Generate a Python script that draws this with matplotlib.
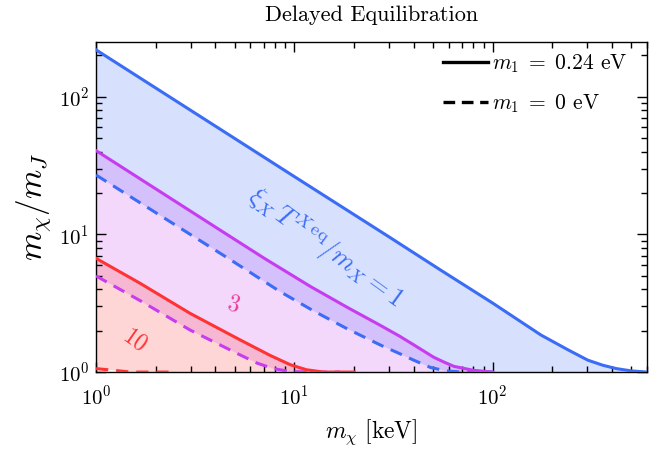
import numpy as np
import matplotlib
matplotlib.use("Agg")
import matplotlib.pyplot as plt
from matplotlib.lines import Line2D

plt.rcParams["font.family"] = "serif"
plt.rcParams["font.serif"] = ["cmr10", "DejaVu Serif"]
plt.rcParams["mathtext.fontset"] = "cm"
plt.rcParams["axes.formatter.use_mathtext"] = True

# Boundaries of the delayed-equilibration regions (m_chi in keV, ratio m_chi/m_J)
blue_solid_x = [1, 10, 30, 54.6, 100, 175, 240, 302, 360, 420, 500, 600]
blue_solid_y = [219, 26.3, 9.6, 5.51, 3.17, 1.86, 1.45, 1.22, 1.12, 1.06, 1.02, 1.0]
blue_dashed_x = [1, 4.64, 8.5, 12.5, 18.5, 27.2, 34, 40, 48.6, 58, 70, 100]
blue_dashed_y = [27, 6.7, 3.83, 2.78, 2.06, 1.57, 1.36, 1.22, 1.08, 1.02, 1.0, 1.0]

purple_solid_x = [1, 4, 7, 12, 18.5, 27.2, 34, 39.9, 50.5, 57, 63.8, 80, 100]
purple_solid_y = [40.6, 11.3, 6.75, 4.2, 2.95, 2.18, 1.82, 1.58, 1.28, 1.18, 1.1, 1.03, 1.0]
purple_dashed_x = [1, 1.67, 2.98, 5.34, 6.5, 7.83, 9.5, 12, 17]
purple_dashed_y = [4.99, 3.30, 2.02, 1.33, 1.16, 1.06, 1.01, 1.0, 1.0]

red_solid_x = [1, 1.67, 2.98, 5.34, 7.56, 9.55, 11.5, 14, 20]
red_solid_y = [6.7, 4.41, 2.67, 1.71, 1.32, 1.13, 1.04, 1.0, 1.0]
red_dashed_x = [1, 1.5, 2.5]
red_dashed_y = [1.06, 1.0, 1.0]

c_blue = "#3b6cf6"
c_purple = "#c83cf0"
c_red = "#ff3333"

fig = plt.figure(figsize=(6.67, 4.51), dpi=100)
ax = fig.add_axes([0.144, 0.175, 0.826, 0.732])
ax.set_xscale("log")
ax.set_yscale("log")

bands = [
    (blue_solid_x, blue_solid_y, blue_dashed_x, blue_dashed_y, c_blue),
    (purple_solid_x, purple_solid_y, purple_dashed_x, purple_dashed_y, c_purple),
    (red_solid_x, red_solid_y, red_dashed_x, red_dashed_y, c_red),
]
dash = (4.0, 2.6)
for sx, sy, dx, dy, col in bands:
    px = np.concatenate([sx, dx[::-1]])
    py = np.concatenate([sy, dy[::-1]])
    ax.fill(px, py, color=col, alpha=0.2, lw=0, zorder=1)
for sx, sy, dx, dy, col in bands:
    ax.plot(sx, sy, color=col, lw=2.2, zorder=3, solid_joinstyle="round")
    ax.plot(dx, dy, color=col, lw=2.2, zorder=3, dashes=dash)

ax.set_xlim(1, 600)
ax.set_ylim(1, 250)

ax.tick_params(which="both", direction="in", top=True, right=True,
               labelsize=15, width=1.0)
ax.tick_params(which="major", length=7)
ax.tick_params(which="minor", length=4)
ax.tick_params(axis="x", which="both", pad=9)
ax.tick_params(axis="y", which="both", pad=5)
for s in ax.spines.values():
    s.set_linewidth(1.0)

ax.set_xlabel(r"$m_\chi\ [\mathrm{keV}]$", fontsize=17, labelpad=6)
ax.set_ylabel(r"$m_\chi/m_J$", fontsize=24, labelpad=4)
ax.set_title("Delayed Equilibration", fontsize=16, pad=15)

ax.text(14.5, 8.0, r"$\xi_X\, T^{X\,\mathrm{eq}}/m_X = 1$", color=c_blue,
        fontsize=19, rotation=-36, ha="center", va="center", zorder=4)
ax.text(4.9, 3.1, r"$3$", color="#e8409a", fontsize=17, rotation=-15,
        ha="center", va="center", zorder=4)
ax.text(1.57, 1.71, r"$10$", color=c_red, fontsize=17, rotation=-35,
        ha="center", va="center", zorder=4)

handles = [Line2D([], [], color="black", lw=2.4),
           Line2D([], [], color="black", lw=2.4, dashes=(3.5, 2.0))]
labels = [r"$m_1 \;=\; 0.24$ eV", r"$m_1 \;=\; 0$ eV"]
ax.legend(handles, labels, loc="upper right", bbox_to_anchor=(0.98, 0.995),
          frameon=False, fontsize=15.5, handlelength=2.1, handletextpad=0.2,
          labelspacing=0.8, borderaxespad=0.0)

fig.savefig("out.png", dpi=100)
